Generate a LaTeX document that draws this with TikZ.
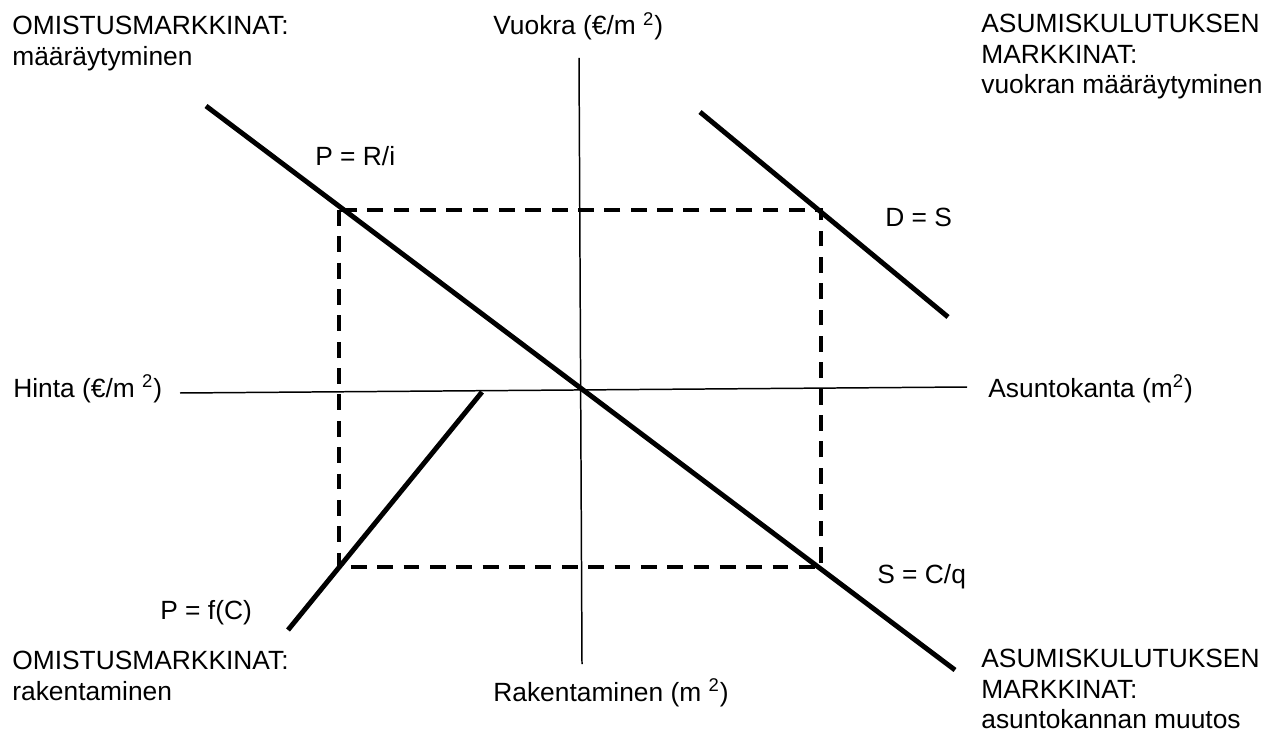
\documentclass[tikz,border=0pt]{standalone}
\usepackage{fontspec}
\setmainfont{Liberation Sans}
\tikzset{
  txt/.style={inner sep=0pt, font=\fontsize{15}{17.3}\selectfont, align=left},
  ax/.style={line width=0.85pt},
  crv/.style={line width=2.8pt},
  dsh/.style={line width=2.2pt, dash pattern=on 9pt off 6pt},
}
\begin{document}
\begin{tikzpicture}[x=0.02cm, y=-0.02cm]
  \useasboundingbox (0,0) rectangle (1266,736);
  % axes
  \coordinate (vtop) at (579,58);
  \coordinate (vbot) at (582,664);
  \coordinate (hl) at (180,393);
  \coordinate (hr) at (967,387);
  \draw[ax] (vtop) -- (vbot);
  \draw[ax] (hl) -- (hr);
  % curves
  \coordinate (prA) at (206,106);
  \coordinate (prB) at (955,670);
  \coordinate (dsA) at (700,112);
  \coordinate (dsB) at (948,317);
  \coordinate (pfA) at (482,392);
  \coordinate (pfB) at (288,630);
  \draw[crv] (prA) -- (prB);
  \draw[crv] (dsA) -- (dsB);
  \draw[crv] (pfA) -- (pfB);
  % equilibrium rectangle
  \coordinate (eqNW) at (339,210);
  \coordinate (eqSE) at (821,567);
  \draw[dsh] (eqNW) rectangle (eqSE);
  % quadrant texts
  \node[txt, anchor=north west] (omtop) at (12,16) {OMISTUSMARKKINAT:\\määräytyminen};
  \node[txt, anchor=north west] (astop) at (981,14) {ASUMISKULUTUKSEN\\MARKKINAT:\\vuokran määräytyminen};
  \node[txt, anchor=north west] (ombot) at (12,651) {OMISTUSMARKKINAT:\\rakentaminen};
  \node[txt, anchor=north west] (asbot) at (981,649) {ASUMISKULUTUKSEN\\MARKKINAT:\\asuntokannan muutos};
  % axis labels
  \node[txt, anchor=base west] (vuokra) at (493,35) {Vuokra (€/m \textsuperscript{2})};
  \node[txt, anchor=base west] (hinta) at (13,397) {Hinta (€/m \textsuperscript{2})};
  \node[txt, anchor=base west] (kanta) at (988,397) {Asuntokanta (m\textsuperscript{2})};
  \node[txt, anchor=base west] (rak) at (493,701) {Rakentaminen (m \textsuperscript{2})};
  % curve labels
  \node[txt, anchor=base west] (lpr) at (315,166) {P = R/i};
  \node[txt, anchor=base west] (lds) at (885,227) {D = S};
  \node[txt, anchor=base west] (lsc) at (877,583) {S = C/q};
  \node[txt, anchor=base west] (lpf) at (160,619) {P = f(C)};
\end{tikzpicture}
\end{document}
